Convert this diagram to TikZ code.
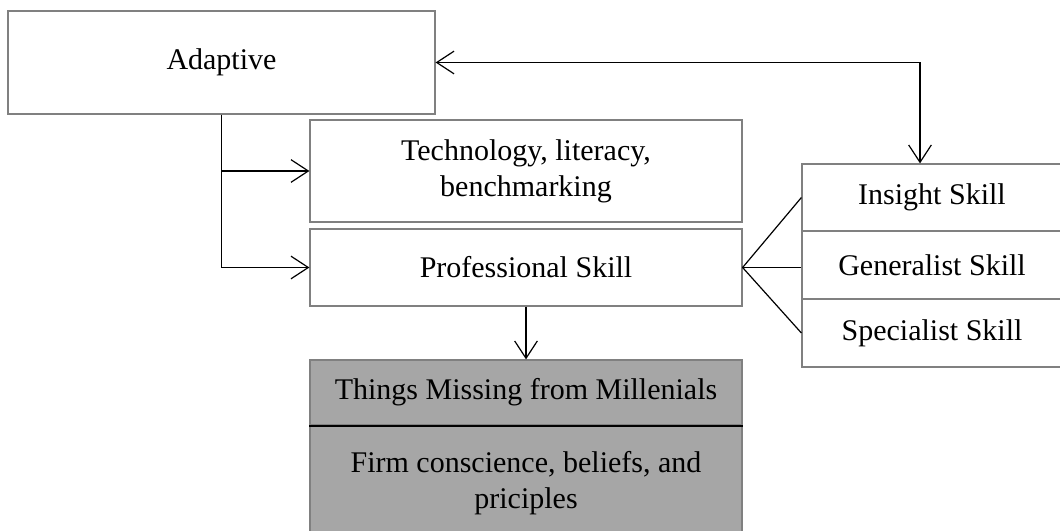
\documentclass[tikz,border=0pt]{standalone}
\usepackage{fontspec}
\setmainfont{Liberation Serif}
\usetikzlibrary{arrows.meta}

\tikzset{every picture/.style={line width=0.75pt}}

\begin{document}
\begin{tikzpicture}[x=0.75pt,y=0.75pt,yscale=-1,xscale=1,
  font=\fontsize{22.5}{27}\selectfont,
  box/.style={draw={rgb, 255:red, 128; green, 128; blue, 128 }, line width=0.9pt, inner sep=0pt, align=center},
  grey box/.style={box, fill={rgb, 255:red, 166; green, 166; blue, 166 }},
  link/.style={draw=black, line width=0.9pt},
  barb/.style={-{Straight Barb[length=13pt,width=17pt]}}]
\useasboundingbox (0,0) rectangle (1060,531);

%Shape: Rectangle [Adaptive]
\node [box, minimum width=320.25pt, minimum height=77.25pt] (adaptive) at (221.5,62.5) {Adaptive};
%Shape: Rectangle [Technology]
\node [box, minimum width=324pt, minimum height=76.5pt] (tech) at (526,171) {Technology, literacy,\\benchmarking};
%Shape: Rectangle [Professional]
\node [box, minimum width=324pt, minimum height=57.75pt] (prof) at (526,267.5) {Professional Skill};

%Shape: Rectangle [right column, runs past the edge]
\node [box, minimum width=195pt, minimum height=50.25pt] (insight) at (932,197.5) {Insight Skill};
\node [box, minimum width=195pt, minimum height=51pt] (generalist) at (932,265) {Generalist Skill};
\node [box, minimum width=195pt, minimum height=51pt] (specialist) at (932,333) {Specialist Skill};

%Shape: Rectangle [grey, two parts]
\node [grey box, minimum width=324pt, minimum height=48.75pt] (missing) at (526,392.5) {Things Missing from Millenials};
\node [grey box, minimum width=324pt, minimum height=87pt] (firm) at (526,483) {Firm conscience, beliefs, and\\priciples};
\draw [black, line width=1.6pt] (missing.south west) -- (missing.south east);

%Lines
\coordinate (turn) at (920,62.5);
\draw [link, barb] (turn) -- (adaptive.east);
\draw [link, barb] (adaptive.east) -- (turn) -- (turn |- insight.north);
\draw [link, barb] (adaptive.south) |- (tech.west);
\draw [link, barb] (adaptive.south) |- (prof.west);
\draw [link, barb] (prof.south) -- (missing.north);
\draw [link] (insight.west) -- (prof.east) -- (specialist.west);
\draw [link] (prof.east) -- (prof.east -| generalist.west);

\end{tikzpicture}
\end{document}
